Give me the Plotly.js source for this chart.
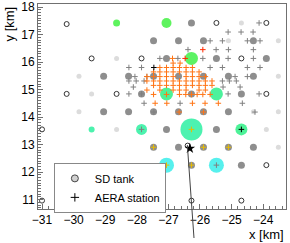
<!DOCTYPE html>
<html><head><meta charset="utf-8">
<script src="https://cdn.plot.ly/plotly-3.0.1.min.js"></script>
<style>html,body{margin:0;padding:0;background:#fff}#plot{width:290px;height:243px}</style>
</head><body><div id="plot"></div>
<script>
// ---- SD tanks ----
const sdOpenX = [-30.22,-25.48,-23.90,-29.43,-27.85,-24.69,-30.22,-28.64,-23.90,-31.00,-26.39,-23.90,-31.00,-29.43,-27.85,-26.27,-24.69];
const sdOpenY = [17.38,17.42,17.42,16.13,16.13,16.13,14.84,14.84,14.84,13.55,12.96,12.25,10.96,10.96,10.96,10.96,10.96];
const sdLightX = [-24.69,-25.10,-23.52,-28.64,-29.83,-23.52,-29.43,-29.83,-24.31,-23.52,-28.64,-23.90,-23.52];
const sdLightY = [17.42,16.77,16.77,16.13,15.48,15.48,14.84,14.19,14.19,14.19,13.55,13.55,12.90];
const sdGrayX = [-26.27,-27.47,-26.68,-25.89,-24.31,-27.06,-25.48,-23.90,-29.05,-28.26,-27.47,-26.68,-25.89,-25.10,-24.31,
  -27.85,-26.27,-24.69,-29.05,-28.26,-27.47,-26.68,-25.89,-25.10,-27.06,-25.48,-27.47,-26.68,-25.89,-25.10,-24.31,-26.27,-24.69];
const sdGrayY = [17.42,16.77,16.77,16.77,16.77,16.13,16.13,16.13,15.48,15.48,15.48,15.48,15.48,15.48,15.48,
  14.84,14.84,14.84,14.19,14.19,14.19,14.19,14.19,14.19,13.55,13.55,12.90,12.90,12.90,12.90,12.90,12.25,12.25];
const sdSigX = [-28.64,-27.06,-26.27,-27.06,-25.48,-29.43,-27.85,-26.27,-24.69,-27.06,-25.48];
const sdSigY = [17.42,17.42,16.13,14.84,14.84,13.55,13.55,13.55,13.55,12.25,12.25];
const sdSigSize = [7,10,13,13,13,6,11,22,12,15,15];
const sdSigTime = [0,0,0.05,0.4,0.45,0.6,0.6,0.62,0.42,1,1];
// ---- AERA stations ----
const aeraX = [-24.13,-25.11,-24.70,-24.32,-25.68,-25.29,-24.50,-24.10,-26.38,-25.49,-25.10,-24.31,
  -27.27,-26.70,-25.91,-25.11,-24.31,-28.25,-27.85,-25.68,-25.29,-24.50,-24.10,-28.06,-27.68,-24.89,-24.50,
  -28.25,-28.02,-27.77,-25.29,-25.07,-24.85,-28.11,-25.27,-24.73,-28.25,-27.85,-25.11,-24.13,
  -27.77,-26.63,-24.66,-27.46,-24.26,-27.85,-25.48];
const aeraY = [17.42,17.09,17.09,17.09,16.77,16.77,16.77,16.77,16.45,16.45,16.45,16.45,
  16.13,16.13,16.13,16.13,16.13,15.80,15.80,15.80,15.80,15.80,15.80,15.47,15.47,15.47,15.47,
  15.31,15.31,15.31,15.31,15.31,15.31,15.09,15.09,15.09,14.84,14.84,14.84,14.84,
  14.50,14.50,14.50,14.18,14.18,13.55,12.25];
const aeraRedX = [-25.91,-26.47];
const aeraRedY = [16.45,16.13];
const aeraSigX = [-26.87,-26.85,-26.63,
  -27.27,-27.06,-26.85,-26.65,-26.44,-26.24,
  -27.47,-27.27,-27.06,-26.85,-26.65,-26.44,-26.24,-26.03,
  -27.68,-27.47,-27.27,-27.06,-26.85,-26.44,-26.24,-26.03,-25.83,
  -27.68,-27.47,-27.27,-27.06,-26.85,-26.65,-26.44,-26.24,-26.03,-25.83,-25.62,
  -27.47,-27.27,-27.06,-26.85,-26.65,-26.44,-26.24,-26.03,-25.83,-25.62,
  -27.68,-27.27,-26.85,-26.65,-26.44,-26.03,-25.83,
  -27.47,-27.06,-26.65,-26.45,-26.27,-26.09,-25.91,-25.68,
  -27.42,-27.05,-26.24,-25.84,-25.42,
  -26.66,-25.89];
const aeraSigY = [16.13,15.96,15.96,
  15.80,15.80,15.80,15.80,15.80,15.80,
  15.64,15.64,15.64,15.64,15.64,15.64,15.64,15.64,
  15.47,15.47,15.47,15.47,15.47,15.47,15.47,15.47,15.47,
  15.31,15.31,15.31,15.31,15.31,15.31,15.31,15.31,15.31,15.31,15.31,
  15.15,15.15,15.15,15.15,15.15,15.15,15.15,15.15,15.15,15.15,
  14.98,14.98,14.98,14.98,14.98,14.98,14.98,
  14.82,14.82,14.82,14.82,14.82,14.82,14.82,14.82,
  14.50,14.50,14.50,14.50,14.50,
  14.18,14.18];
const aeraYellowX = [-27.47,-25.89,-25.10,-27.06,-26.27,-26.27];
const aeraYellowY = [12.90,12.90,12.90,12.25,12.25,13.55];
const aeraBlackX = [-27.46,-24.69];
const aeraBlackY = [15.80,13.55];
// ---- reconstructed shower ----
const coreX = [-26.32];
const coreY = [12.86];
const showerAxisX = [-26.40,-26.19];
const showerAxisY = [12.98,9.60];
// ---- axes ----
const xRange = [-31.127,-23.278];
const yRange = [10.655,18.109];
const legendNames = ['SD tank','AERA station'];

const F = 'Liberation Sans, Arial, sans-serif';
function cross(x,y,color,size){
  return {type:'scatter',mode:'markers',x:x,y:y,showlegend:false,hoverinfo:'skip',
    marker:{symbol:'cross-thin',size:size||4,color:color,line:{color:color,width:1}}};
}
const traces = [
  {type:'scatter',mode:'markers',x:sdLightX,y:sdLightY,showlegend:false,
    marker:{symbol:'circle',size:5,color:'#dcdcdc',line:{width:0}}},
  {type:'scatter',mode:'markers',x:sdGrayX,y:sdGrayY,showlegend:false,
    marker:{symbol:'circle',size:7,color:'#8e8e8e',line:{width:0}}},
  {type:'scatter',mode:'markers',x:sdOpenX,y:sdOpenY,showlegend:false,
    marker:{symbol:'circle',size:5,color:'rgba(255,255,255,0)',line:{color:'#333',width:1}}},
  {type:'scatter',mode:'markers',x:sdSigX,y:sdSigY,showlegend:false,
    marker:{symbol:'circle',size:sdSigSize,color:sdSigTime,cmin:0,cmax:1,
      colorscale:[[0,'#1aee1a'],[0.45,'#00ec72'],[0.62,'#00ec8e'],[1,'#10eae6']],line:{width:0}}},
  cross(aeraX,aeraY,'#808080'),
  cross(aeraSigX,aeraSigY,'#ff7414'),
  cross(aeraRedX,aeraRedY,'#ff2a00'),
  cross(aeraYellowX,aeraYellowY,'#e8bc00'),
  cross(aeraBlackX,aeraBlackY,'#000'),
  {type:'scatter',mode:'markers',x:coreX,y:coreY,showlegend:false,
    marker:{symbol:'star',size:8,color:'#000'}},
  {type:'scatter',mode:'markers',x:[null],y:[null],name:legendNames[0],
    marker:{symbol:'circle',size:7,color:'#d0d0d0',line:{color:'#444',width:1}}},
  {type:'scatter',mode:'markers',x:[null],y:[null],name:legendNames[1],
    marker:{symbol:'cross-thin',size:6,color:'#000',line:{color:'#000',width:1}}}
];
const px = v => (v - xRange[0])/(xRange[1]-xRange[0]);
const py = v => (v - yRange[0])/(yRange[1]-yRange[0]);
const axStyle = {showgrid:false,zeroline:false,showline:true,mirror:true,linecolor:'#707070',linewidth:1,
  ticks:'inside',ticklen:5,tickcolor:'#707070',tickwidth:1,tickfont:{family:F,size:12,color:'#000'}};
const layout = {
  width:290,height:243,margin:{l:38,r:4,t:4,b:34},
  paper_bgcolor:'#fff',plot_bgcolor:'#fff',
  font:{family:F,color:'#000'},
  xaxis:Object.assign({},axStyle,{range:xRange,dtick:1,tick0:-31,minor:{ticks:'inside',ticklen:3,tickcolor:'#707070',dtick:0.2}}),
  yaxis:Object.assign({},axStyle,{range:yRange,dtick:1,tick0:11,minor:{ticks:'inside',ticklen:3,tickcolor:'#707070',dtick:0.1}}),
  legend:{x:0.064,y:0.225,xanchor:'left',yanchor:'top',bgcolor:'#fff',bordercolor:'#888',borderwidth:1,
    font:{family:F,size:11,color:'#000'},itemwidth:30,tracegroupgap:0},
  shapes:[{type:'line',xref:'paper',yref:'paper',layer:'above',
    x0:px(showerAxisX[0]),y0:py(showerAxisY[0]),x1:px(showerAxisX[1]),y1:py(showerAxisY[1]),
    line:{color:'#444',width:1}}],
  annotations:[
    {text:'x [km]',xref:'paper',yref:'paper',x:1,y:-0.125,xanchor:'right',yanchor:'middle',showarrow:false,
      font:{family:F,size:13,color:'#000'}},
    {text:'y [km]',xref:'paper',yref:'paper',x:-0.113,y:1,xanchor:'center',yanchor:'top',textangle:-90,showarrow:false,
      font:{family:F,size:13,color:'#000'}}
  ]
};
Plotly.newPlot('plot',traces,layout,{staticPlot:true,displayModeBar:false});
</script></body></html>
